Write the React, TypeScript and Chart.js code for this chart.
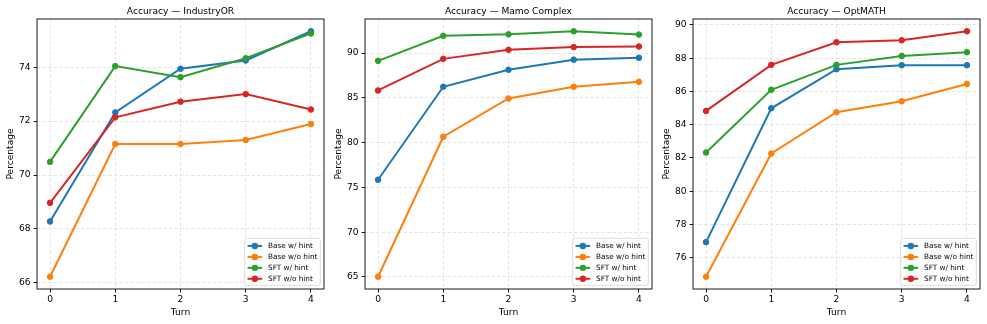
import React, { useEffect, useRef } from "react";
import { Chart, registerables } from "chart.js";
Chart.register(...registerables);

const turns = [0, 1, 2, 3, 4];
const seriesNames = ["Base w/ hint", "Base w/o hint", "SFT w/ hint", "SFT w/o hint"];
const seriesColors = ["#1f77b4", "#ff7f0e", "#2ca02c", "#d62728"];

const industryBaseHint = [68.28, 72.32, 73.94, 74.25, 75.33];
const industryBaseNoHint = [66.23, 71.15, 71.15, 71.3, 71.89];
const industrySftHint = [70.49, 74.04, 73.63, 74.33, 75.25];
const industrySftNoHint = [68.97, 72.14, 72.72, 73.0, 72.43];
const industryTicks = [66, 68, 70, 72, 74];

const mamoBaseHint = [75.86, 86.24, 88.14, 89.27, 89.48];
const mamoBaseNoHint = [65.03, 80.66, 84.94, 86.24, 86.8];
const mamoSftHint = [89.14, 91.93, 92.1, 92.44, 92.07];
const mamoSftNoHint = [85.83, 89.36, 90.37, 90.67, 90.74];
const mamoTicks = [65, 70, 75, 80, 85, 90];

const optBaseHint = [76.94, 84.99, 87.34, 87.58, 87.58];
const optBaseNoHint = [74.86, 82.27, 84.75, 85.41, 86.45];
const optSftHint = [82.33, 86.1, 87.6, 88.14, 88.36];
const optSftNoHint = [84.83, 87.6, 88.96, 89.08, 89.62];
const optTicks = [76, 78, 80, 82, 84, 86, 88, 90];

const FONT = "'DejaVu Sans', 'Liberation Sans', sans-serif";

const decor = {
  id: "decor",
  afterDraw(chart: any, _args: any, opts: any) {
    const { ctx, chartArea: a } = chart;
    ctx.save();
    // frame (spines)
    ctx.strokeStyle = "#000";
    ctx.lineWidth = 0.9;
    ctx.strokeRect(a.left, a.top, a.right - a.left, a.bottom - a.top);
    // title
    ctx.fillStyle = "#000";
    ctx.font = `9.1px ${FONT}`;
    ctx.textAlign = "center";
    ctx.textBaseline = "alphabetic";
    ctx.fillText(opts.title, (a.left + a.right) / 2, a.top - 5.5);
    // legend
    const fs = 7.3;
    ctx.font = `${fs}px ${FONT}`;
    const ds = chart.data.datasets;
    let tw = 0;
    ds.forEach((d: any) => (tw = Math.max(tw, ctx.measureText(d.label).width)));
    const pad = 0.4 * fs;
    const hl = 2 * fs;
    const htp = 0.8 * fs;
    const rowH = fs * 1.5;
    const w = pad + hl + htp + tw + pad;
    const h = pad * 2 + rowH * ds.length - 0.5 * fs + 1;
    const x0 = a.right - 0.5 * fs - w;
    const y0 = a.bottom - 0.5 * fs - h;
    ctx.beginPath();
    const r = 2;
    ctx.moveTo(x0 + r, y0);
    ctx.arcTo(x0 + w, y0, x0 + w, y0 + h, r);
    ctx.arcTo(x0 + w, y0 + h, x0, y0 + h, r);
    ctx.arcTo(x0, y0 + h, x0, y0, r);
    ctx.arcTo(x0, y0, x0 + w, y0, r);
    ctx.closePath();
    ctx.fillStyle = "rgba(255,255,255,0.85)";
    ctx.fill();
    ctx.strokeStyle = "#d4d4d4";
    ctx.lineWidth = 0.8;
    ctx.stroke();
    ds.forEach((d: any, i: number) => {
      const cy = y0 + pad + fs / 2 + 1 + i * (fs * 1.5);
      ctx.strokeStyle = d.borderColor;
      ctx.lineWidth = 2;
      ctx.beginPath();
      ctx.moveTo(x0 + pad, cy);
      ctx.lineTo(x0 + pad + hl, cy);
      ctx.stroke();
      ctx.fillStyle = d.borderColor;
      ctx.beginPath();
      ctx.arc(x0 + pad + hl / 2, cy, 3.2, 0, Math.PI * 2);
      ctx.fill();
      ctx.fillStyle = "#000";
      ctx.textAlign = "left";
      ctx.textBaseline = "middle";
      ctx.fillText(d.label, x0 + pad + hl + htp, cy + 0.5);
    });
    ctx.restore();
  },
};

type PanelProps = {
  left: number;
  title: string;
  series: number[][];
  yTicks: number[];
};

function Panel({ left, title, series, yTicks }: PanelProps) {
  const ref = useRef<HTMLCanvasElement | null>(null);
  useEffect(() => {
    if (!ref.current) return;
    const all = series.flat();
    const dmin = Math.min(...all);
    const dmax = Math.max(...all);
    const span = dmax - dmin;
    const xSpan = turns[turns.length - 1] - turns[0];
    const gridOpts = {
      color: "#dedede",
      lineWidth: 0.8,
      tickColor: "#000",
      tickLength: 3.5,
      tickWidth: 0.9,
    };
    const chart = new Chart(ref.current, {
      type: "line",
      data: {
        datasets: series.map((vals, i) => ({
          label: seriesNames[i],
          data: turns.map((t, j) => ({ x: t, y: vals[j] })),
          borderColor: seriesColors[i],
          backgroundColor: seriesColors[i],
          pointBackgroundColor: seriesColors[i],
          pointBorderColor: seriesColors[i],
          pointRadius: 2.8,
          pointBorderWidth: 1,
          pointHoverRadius: 2.8,
          borderWidth: 2,
          tension: 0,
          fill: false,
          order: series.length - i,
        })),
      },
      options: {
        responsive: false,
        animation: false,
        events: [],
        layout: { padding: { top: 19, right: 7, left: 0, bottom: 0 } },
        plugins: {
          legend: { display: false },
          title: { display: false },
          tooltip: { enabled: false },
          decor: { title },
        } as any,
        scales: {
          x: {
            type: "linear",
            min: turns[0] - 0.05 * xSpan,
            max: turns[turns.length - 1] + 0.05 * xSpan,
            afterBuildTicks: (s: any) => {
              s.ticks = turns.map((v) => ({ value: v }));
            },
            afterFit: (s: any) => {
              s.height = 35;
            },
            ticks: {
              color: "#000",
              font: { size: 9.1, family: FONT },
              padding: 2,
              maxRotation: 0,
              callback: (v: any) => String(v),
            },
            grid: gridOpts,
            border: { display: false, dash: [3.5, 2] },
            title: {
              display: true,
              text: "Turn",
              color: "#000",
              font: { size: 9.1, family: FONT },
              padding: { top: 0, bottom: 6 },
            },
          },
          y: {
            type: "linear",
            min: dmin - 0.05 * span,
            max: dmax + 0.05 * span,
            afterBuildTicks: (s: any) => {
              s.ticks = yTicks.map((v) => ({ value: v }));
            },
            afterFit: (s: any) => {
              s.width = 37;
            },
            ticks: {
              color: "#000",
              font: { size: 9.1, family: FONT },
              padding: 3,
              callback: (v: any) => String(v),
            },
            grid: gridOpts,
            border: { display: false, dash: [3.5, 2] },
            title: {
              display: true,
              text: "Percentage",
              color: "#000",
              font: { size: 9.1, family: FONT },
              padding: { top: 5.5, bottom: 0 },
            },
          },
        },
      },
      plugins: [decor as any],
    });
    return () => chart.destroy();
  }, [left, title, series, yTicks]);
  return (
    <canvas
      ref={ref}
      width={331}
      height={324}
      style={{ position: "absolute", left, top: 0, width: 331, height: 324 }}
    />
  );
}

const industrySeries = [industryBaseHint, industryBaseNoHint, industrySftHint, industrySftNoHint];
const mamoSeries = [mamoBaseHint, mamoBaseNoHint, mamoSftHint, mamoSftNoHint];
const optSeries = [optBaseHint, optBaseNoHint, optSftHint, optSftNoHint];

export default function App() {
  return (
    <div style={{ position: "absolute", left: 0, top: 0, width: 987, height: 324, background: "#fff" }}>
      <Panel left={0} title="Accuracy — IndustryOR" series={industrySeries} yTicks={industryTicks} />
      <Panel left={328} title="Accuracy — Mamo Complex" series={mamoSeries} yTicks={mamoTicks} />
      <Panel left={656} title="Accuracy — OptMATH" series={optSeries} yTicks={optTicks} />
    </div>
  );
}
